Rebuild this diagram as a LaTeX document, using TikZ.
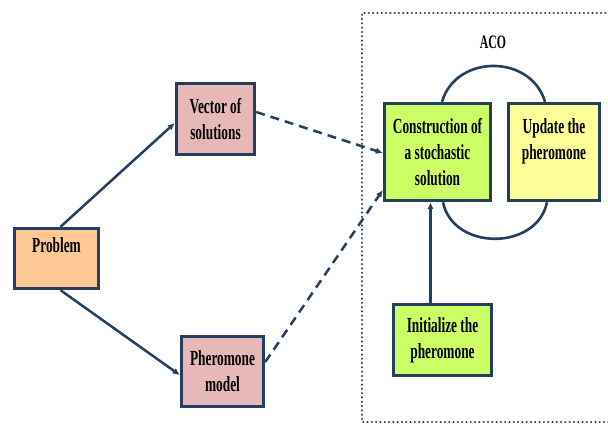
\documentclass[tikz,border=0pt]{standalone}
\usepackage{fontspec}
\setmainfont{Liberation Serif}[FakeStretch=0.62]
\usetikzlibrary{arrows.meta,calc}
\definecolor{navy}{HTML}{243F60}
\definecolor{fprob}{HTML}{FFC996}
\definecolor{fpink}{HTML}{E6B9B8}
\definecolor{flime}{HTML}{CCFF66}
\definecolor{fyel}{HTML}{FFFF99}
\begin{document}
\begin{tikzpicture}[x=1pt,y=-1pt,
  box/.style={draw=navy,line width=3.4pt,align=center,inner sep=0pt,
    font=\fontsize{21.5}{26}\selectfont\bfseries},
  arr/.style={draw=navy,line width=2.5pt,-{Latex[length=7pt,width=6.5pt]}},
  darr/.style={arr,dash pattern=on 9pt off 6pt},
  loopline/.style={draw=navy,line width=2.6pt},
  zone/.style={draw=navy,line width=2.4pt,line cap=round,dash pattern=on 0.1pt off 4.2pt}]
\useasboundingbox (0,0) rectangle (608,425);
\draw[zone] (614,13) -- (362,13) -- (362,422) -- (614,422);
\node[font=\fontsize{19}{22}\selectfont\bfseries] (aco) at (493,42) {ACO};

\node[box,fill=fprob,minimum width=84pt,minimum height=60pt] (prob) at (56.5,258.5) {Problem\\\mbox{}};
\node[box,fill=fpink,minimum width=78pt,minimum height=71pt] (vec) at (215.5,119) {Vector of\\solutions};
\node[box,fill=fpink,minimum width=82pt,minimum height=70pt] (pher) at (222.5,371.5) {Pheromone\\model};
\node[box,fill=flime,minimum width=106pt,minimum height=97pt] (cons) at (437.5,152) {Construction of\\a stochastic\\solution};
\node[box,fill=fyel,minimum width=91pt,minimum height=97pt] (upd) at (554,152) {Update the\\pheromone\\\mbox{}};
\node[box,fill=flime,minimum width=98pt,minimum height=71pt] (init) at (442.5,340) {Initialize the\\pheromone};

\draw[arr] ([xshift=4pt]prob.north) -- ([yshift=-4pt]vec.west);
\draw[arr] ([xshift=4pt]prob.south) -- ([yshift=-3.5pt]pher.west);
\draw[darr] ([yshift=7pt]vec.east) -- ([yshift=-1pt]cons.west);
\draw[darr] ([yshift=9.5pt]pher.east) -- ([yshift=-38pt]cons.west);
\draw[arr] ([xshift=-12pt]init.north) -- ([xshift=-12pt]init.north |- cons.south);

\draw[loopline] ([xshift=4.5pt]cons.north) .. controls (456,54) and (531,54) .. ([xshift=-9pt]upd.north);
\draw[loopline] ([xshift=5.5pt]cons.south) .. controls (453,251) and (537,251) .. ([xshift=-7pt]upd.south);
\end{tikzpicture}
\end{document}
